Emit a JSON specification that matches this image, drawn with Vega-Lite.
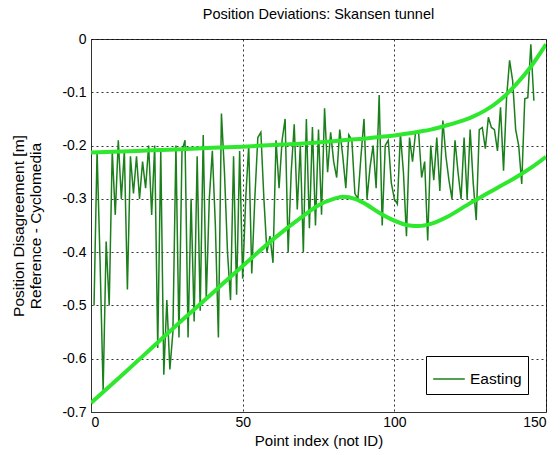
{
  "$schema": "https://vega.github.io/schema/vega-lite/v6.json",
  "width": 455,
  "height": 373,
  "autosize": {"type": "none"},
  "padding": {"left": 91, "top": 39, "right": 14, "bottom": 43},
  "background": "white",
  "title": {"text": "Position Deviations: Skansen tunnel", "fontSize": 14.5, "fontWeight": "normal", "font": "Liberation Sans", "offset": 10, "color": "#000"},
  "config": {
    "view": {"stroke": "#333", "strokeWidth": 1},
    "axis": {
      "labelFont": "Liberation Sans", "labelFontSize": 14, "labelColor": "#000",
      "titleFont": "Liberation Sans", "titleFontSize": 15, "titleFontWeight": "normal", "titleColor": "#000",
      "gridDash": [2, 3], "gridColor": "#000", "gridOpacity": 0.8, "gridWidth": 1,
      "domainColor": "#333", "ticks": false
    }
  },
  "datasets": {
    "east": [
      {"i":1,"v":-0.50,"series":"Easting"},{"i":2,"v":-0.21,"series":"Easting"},{"i":3,"v":-0.42,"series":"Easting"},{"i":4,"v":-0.66,"series":"Easting"},{"i":5,"v":-0.38,"series":"Easting"},
      {"i":6,"v":-0.50,"series":"Easting"},{"i":7,"v":-0.21,"series":"Easting"},{"i":8,"v":-0.33,"series":"Easting"},{"i":9,"v":-0.19,"series":"Easting"},{"i":10,"v":-0.30,"series":"Easting"},
      {"i":11,"v":-0.21,"series":"Easting"},{"i":12,"v":-0.47,"series":"Easting"},{"i":13,"v":-0.22,"series":"Easting"},{"i":14,"v":-0.29,"series":"Easting"},{"i":15,"v":-0.22,"series":"Easting"},
      {"i":16,"v":-0.30,"series":"Easting"},{"i":17,"v":-0.23,"series":"Easting"},{"i":18,"v":-0.28,"series":"Easting"},{"i":19,"v":-0.20,"series":"Easting"},{"i":20,"v":-0.33,"series":"Easting"},
      {"i":21,"v":-0.20,"series":"Easting"},{"i":22,"v":-0.58,"series":"Easting"},{"i":23,"v":-0.21,"series":"Easting"},{"i":24,"v":-0.63,"series":"Easting"},{"i":25,"v":-0.49,"series":"Easting"},
      {"i":26,"v":-0.62,"series":"Easting"},{"i":27,"v":-0.55,"series":"Easting"},{"i":28,"v":-0.20,"series":"Easting"},{"i":29,"v":-0.56,"series":"Easting"},{"i":30,"v":-0.21,"series":"Easting"},
      {"i":31,"v":-0.19,"series":"Easting"},{"i":32,"v":-0.56,"series":"Easting"},{"i":33,"v":-0.30,"series":"Easting"},{"i":34,"v":-0.53,"series":"Easting"},{"i":35,"v":-0.22,"series":"Easting"},
      {"i":36,"v":-0.51,"series":"Easting"},{"i":37,"v":-0.18,"series":"Easting"},{"i":38,"v":-0.49,"series":"Easting"},{"i":39,"v":-0.30,"series":"Easting"},{"i":40,"v":-0.21,"series":"Easting"},
      {"i":41,"v":-0.35,"series":"Easting"},{"i":42,"v":-0.56,"series":"Easting"},{"i":43,"v":-0.14,"series":"Easting"},{"i":44,"v":-0.25,"series":"Easting"},{"i":45,"v":-0.40,"series":"Easting"},
      {"i":46,"v":-0.49,"series":"Easting"},{"i":47,"v":-0.22,"series":"Easting"},{"i":48,"v":-0.48,"series":"Easting"},{"i":49,"v":-0.21,"series":"Easting"},{"i":50,"v":-0.45,"series":"Easting"},
      {"i":51,"v":-0.30,"series":"Easting"},{"i":52,"v":-0.20,"series":"Easting"},{"i":53,"v":-0.44,"series":"Easting"},{"i":54,"v":-0.30,"series":"Easting"},{"i":55,"v":-0.185,"series":"Easting"},
      {"i":56,"v":-0.175,"series":"Easting"},{"i":57,"v":-0.30,"series":"Easting"},{"i":58,"v":-0.40,"series":"Easting"},{"i":59,"v":-0.37,"series":"Easting"},{"i":60,"v":-0.42,"series":"Easting"},
      {"i":61,"v":-0.19,"series":"Easting"},{"i":62,"v":-0.28,"series":"Easting"},{"i":63,"v":-0.19,"series":"Easting"},{"i":64,"v":-0.15,"series":"Easting"},{"i":65,"v":-0.40,"series":"Easting"},
      {"i":66,"v":-0.25,"series":"Easting"},{"i":67,"v":-0.16,"series":"Easting"},{"i":68,"v":-0.32,"series":"Easting"},{"i":69,"v":-0.20,"series":"Easting"},{"i":70,"v":-0.40,"series":"Easting"},
      {"i":71,"v":-0.15,"series":"Easting"},{"i":72,"v":-0.355,"series":"Easting"},{"i":73,"v":-0.165,"series":"Easting"},{"i":74,"v":-0.35,"series":"Easting"},{"i":75,"v":-0.17,"series":"Easting"},
      {"i":76,"v":-0.33,"series":"Easting"},{"i":77,"v":-0.13,"series":"Easting"},{"i":78,"v":-0.25,"series":"Easting"},{"i":79,"v":-0.175,"series":"Easting"},{"i":80,"v":-0.23,"series":"Easting"},
      {"i":81,"v":-0.26,"series":"Easting"},{"i":82,"v":-0.17,"series":"Easting"},{"i":83,"v":-0.22,"series":"Easting"},{"i":84,"v":-0.28,"series":"Easting"},{"i":85,"v":-0.18,"series":"Easting"},
      {"i":86,"v":-0.19,"series":"Easting"},{"i":87,"v":-0.29,"series":"Easting"},{"i":88,"v":-0.30,"series":"Easting"},{"i":89,"v":-0.22,"series":"Easting"},{"i":90,"v":-0.15,"series":"Easting"},
      {"i":91,"v":-0.30,"series":"Easting"},{"i":92,"v":-0.24,"series":"Easting"},{"i":93,"v":-0.20,"series":"Easting"},{"i":94,"v":-0.28,"series":"Easting"},{"i":95,"v":-0.105,"series":"Easting"},
      {"i":96,"v":-0.35,"series":"Easting"},{"i":97,"v":-0.20,"series":"Easting"},{"i":98,"v":-0.19,"series":"Easting"},{"i":99,"v":-0.27,"series":"Easting"},{"i":100,"v":-0.30,"series":"Easting"},
      {"i":101,"v":-0.31,"series":"Easting"},{"i":102,"v":-0.178,"series":"Easting"},{"i":103,"v":-0.25,"series":"Easting"},{"i":104,"v":-0.37,"series":"Easting"},{"i":105,"v":-0.185,"series":"Easting"},
      {"i":106,"v":-0.23,"series":"Easting"},{"i":107,"v":-0.175,"series":"Easting"},{"i":108,"v":-0.175,"series":"Easting"},{"i":109,"v":-0.26,"series":"Easting"},{"i":110,"v":-0.23,"series":"Easting"},
      {"i":111,"v":-0.378,"series":"Easting"},{"i":112,"v":-0.20,"series":"Easting"},{"i":113,"v":-0.265,"series":"Easting"},{"i":114,"v":-0.185,"series":"Easting"},{"i":115,"v":-0.285,"series":"Easting"},
      {"i":116,"v":-0.153,"series":"Easting"},{"i":117,"v":-0.22,"series":"Easting"},{"i":118,"v":-0.265,"series":"Easting"},{"i":119,"v":-0.30,"series":"Easting"},{"i":120,"v":-0.19,"series":"Easting"},
      {"i":121,"v":-0.25,"series":"Easting"},{"i":122,"v":-0.30,"series":"Easting"},{"i":123,"v":-0.185,"series":"Easting"},{"i":124,"v":-0.30,"series":"Easting"},{"i":125,"v":-0.17,"series":"Easting"},
      {"i":126,"v":-0.27,"series":"Easting"},{"i":127,"v":-0.34,"series":"Easting"},{"i":128,"v":-0.17,"series":"Easting"},{"i":129,"v":-0.166,"series":"Easting"},{"i":130,"v":-0.206,"series":"Easting"},
      {"i":131,"v":-0.147,"series":"Easting"},{"i":132,"v":-0.166,"series":"Easting"},{"i":133,"v":-0.17,"series":"Easting"},{"i":134,"v":-0.21,"series":"Easting"},{"i":135,"v":-0.128,"series":"Easting"},
      {"i":136,"v":-0.247,"series":"Easting"},{"i":137,"v":-0.11,"series":"Easting"},{"i":138,"v":-0.04,"series":"Easting"},{"i":139,"v":-0.078,"series":"Easting"},{"i":140,"v":-0.17,"series":"Easting"},
      {"i":141,"v":-0.20,"series":"Easting"},{"i":142,"v":-0.272,"series":"Easting"},{"i":143,"v":-0.112,"series":"Easting"},{"i":144,"v":-0.11,"series":"Easting"},{"i":145,"v":-0.01,"series":"Easting"},
      {"i":146,"v":-0.116,"series":"Easting"}
    ],
    "env": [
      {"x":0,"up":-0.213,"lo":-0.683},{"x":10,"up":-0.211,"lo":-0.632},{"x":20,"up":-0.209,"lo":-0.580},{"x":30,"up":-0.207,"lo":-0.528},
      {"x":40,"up":-0.204,"lo":-0.477},{"x":50,"up":-0.202,"lo":-0.426},{"x":60,"up":-0.199,"lo":-0.376},{"x":70,"up":-0.196,"lo":-0.332},
      {"x":75,"up":-0.194,"lo":-0.312},{"x":80,"up":-0.192,"lo":-0.300},{"x":83,"up":-0.190,"lo":-0.296},{"x":87,"up":-0.188,"lo":-0.300},
      {"x":90,"up":-0.187,"lo":-0.308},{"x":95,"up":-0.184,"lo":-0.326},{"x":100,"up":-0.181,"lo":-0.341},{"x":105,"up":-0.177,"lo":-0.350},
      {"x":108,"up":-0.174,"lo":-0.351},{"x":112,"up":-0.170,"lo":-0.347},{"x":118,"up":-0.161,"lo":-0.332},{"x":125,"up":-0.148,"lo":-0.308},
      {"x":130,"up":-0.134,"lo":-0.292},{"x":135,"up":-0.114,"lo":-0.276},{"x":140,"up":-0.086,"lo":-0.260},{"x":145,"up":-0.052,"lo":-0.242},
      {"x":150,"up":-0.010,"lo":-0.221}
    ]
  },
  "layer": [
    {
      "data": {"name": "east"},
      "mark": {"type": "line", "strokeWidth": 1.5, "clip": true},
      "encoding": {
        "x": {"field": "i", "type": "quantitative", "scale": {"domain": [0, 150], "nice": false},
              "axis": {"values": [0, 50, 100, 150], "title": "Point index (not ID)", "labelPadding": 3, "titlePadding": 4, "grid": true}},
        "y": {"field": "v", "type": "quantitative", "scale": {"domain": [-0.7, 0], "nice": false, "zero": false},
              "axis": {"values": [-0.7, -0.6, -0.5, -0.4, -0.3, -0.2, -0.1, 0], "title": ["Position Disagreement [m]", "Reference - Cyclomedia"],
                       "labelExpr": "replace(format(datum.value, '.1~f'), '\u2212', '-')", "labelPadding": 5, "titlePadding": 18, "titleFontSize": 15.5, "grid": true}},
        "color": {"field": "series", "type": "nominal", "scale": {"range": ["#1b7f1b"]},
                  "legend": {"title": null, "orient": "bottom-right", "offset": 18, "strokeColor": "#000", "fillColor": "white",
                             "padding": 6, "symbolType": "stroke", "symbolSize": 1000, "symbolStrokeWidth": 1.5,
                             "labelFont": "Liberation Sans", "labelFontSize": 15.5, "labelColor": "#000", "labelOffset": 4}}
      }
    },
    {
      "data": {"name": "env"},
      "mark": {"type": "line", "strokeWidth": 4, "color": "#2de82d", "interpolate": "monotone", "clip": true},
      "encoding": {"x": {"field": "x", "type": "quantitative"}, "y": {"field": "up", "type": "quantitative"}}
    },
    {
      "data": {"name": "env"},
      "mark": {"type": "line", "strokeWidth": 4, "color": "#2de82d", "interpolate": "monotone", "clip": true},
      "encoding": {"x": {"field": "x", "type": "quantitative"}, "y": {"field": "lo", "type": "quantitative"}}
    }
  ]
}
